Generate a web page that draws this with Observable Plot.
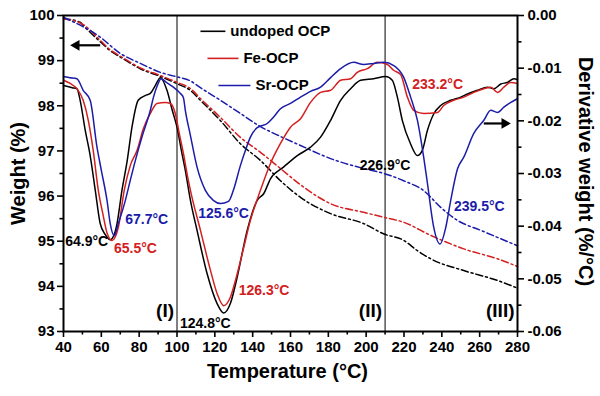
<!DOCTYPE html>
<html>
<head>
<meta charset="utf-8">
<script src="https://cdn.jsdelivr.net/npm/d3@7"></script>
<script src="https://cdn.jsdelivr.net/npm/@observablehq/plot@0.6"></script>
<style>body{margin:0;background:#fff}</style>
</head>
<body>
<div id="chart"></div>
<script>
// ---- data ----
const seriesNames = ["undoped OCP", "Fe-OCP", "Sr-OCP"];
const seriesColors = ["#000000", "#d42020", "#1c1caa"];

// Derivative weight (%/°C) vs temperature (°C)
const dtgUndoped = [[40,-0.0133],[44.6,-0.0137],[47.1,-0.0139],[48.8,-0.0161],[51.5,-0.0218],[54.1,-0.0266],[56.8,-0.0332],[59.4,-0.0395],[62.1,-0.0416],[64.7,-0.0426],[66.8,-0.0416],[68.3,-0.0395],[70.9,-0.0332],[73.7,-0.0275],[76.2,-0.0212],[79.5,-0.0161],[83.2,-0.0152],[85.9,-0.0148],[88.5,-0.0133],[91.2,-0.0118],[94.7,-0.0142],[97.5,-0.0180],[100,-0.0212],[102.3,-0.0256],[104.4,-0.0294],[107.1,-0.0351],[110.6,-0.0408],[115.9,-0.0490],[121.2,-0.0547],[124.7,-0.0565],[128.2,-0.0547],[131.8,-0.0497],[137.1,-0.0408],[142.4,-0.0351],[145.9,-0.0338],[149.4,-0.0310],[156.3,-0.0288],[163.6,-0.0266],[170.6,-0.0250],[175.9,-0.0231],[181.2,-0.0199],[186.5,-0.0161],[191.8,-0.0139],[197.1,-0.0123],[204,-0.0120],[210.3,-0.0116],[213.8,-0.0123],[216.5,-0.0155],[219.1,-0.0199],[223.5,-0.0244],[227.1,-0.0266],[229.7,-0.0256],[232.4,-0.0218],[235.7,-0.0187],[239.4,-0.0171],[244.7,-0.0161],[250,-0.0155],[253.6,-0.0149],[258.8,-0.0142],[264.1,-0.0136],[267.5,-0.0139],[271.2,-0.0130],[274.7,-0.0127],[278.1,-0.0120],[280,-0.0122]];
const dtgFe = [[40,-0.0123],[43.5,-0.0129],[47.1,-0.0139],[50.4,-0.0161],[53.1,-0.0199],[55.7,-0.0256],[58.4,-0.0332],[61,-0.0380],[63.1,-0.0414],[65.6,-0.0427],[67.4,-0.0420],[69,-0.0402],[72.1,-0.0332],[75.3,-0.0285],[78.9,-0.0256],[82.2,-0.0215],[85.9,-0.0186],[89.4,-0.0167],[93.8,-0.0165],[96.5,-0.0167],[99.1,-0.0186],[101.2,-0.0224],[103.4,-0.0262],[105.5,-0.0304],[107.1,-0.0332],[112.4,-0.0408],[117.7,-0.0484],[121.2,-0.0528],[124.7,-0.0551],[128.2,-0.0535],[130.9,-0.0503],[135.3,-0.0440],[138.8,-0.0389],[144.1,-0.0332],[149.4,-0.0281],[154.7,-0.0243],[160,-0.0212],[165.3,-0.0196],[170.6,-0.0165],[175.9,-0.0146],[181.2,-0.0142],[186.5,-0.0123],[191.8,-0.0120],[195.3,-0.0108],[200.6,-0.0101],[205.9,-0.0089],[211.2,-0.0093],[214.5,-0.0104],[218.2,-0.0112],[221.8,-0.0155],[225.1,-0.0180],[230.4,-0.0186],[237.7,-0.0184],[241,-0.0171],[246.3,-0.0161],[251.6,-0.0155],[256.9,-0.0146],[262.2,-0.0139],[265.9,-0.0136],[269.4,-0.0146],[272.8,-0.0136],[276.5,-0.0127],[280,-0.0129]];
const dtgSr = [[40,-0.0116],[43.5,-0.0118],[47.1,-0.0120],[50.4,-0.0142],[54.1,-0.0161],[57.7,-0.0250],[60,-0.0294],[63,-0.0351],[64.7,-0.0395],[66.8,-0.0418],[69,-0.0395],[72.7,-0.0351],[75.3,-0.0313],[78,-0.0275],[81.7,-0.0228],[85.9,-0.0180],[87.5,-0.0156],[89.6,-0.0133],[91.6,-0.0120],[94.4,-0.0127],[98.1,-0.0136],[101.8,-0.0148],[103.4,-0.0156],[104.4,-0.0180],[107.1,-0.0228],[110.6,-0.0288],[115,-0.0332],[119.2,-0.0351],[123,-0.0357],[127.2,-0.0353],[129.8,-0.0332],[133.5,-0.0285],[136.2,-0.0256],[138.8,-0.0231],[142.4,-0.0213],[147.7,-0.0205],[151,-0.0193],[154.7,-0.0177],[160,-0.0167],[165.3,-0.0155],[170.6,-0.0144],[175.9,-0.0136],[181.2,-0.0118],[186.5,-0.0101],[193.4,-0.0089],[198.7,-0.0093],[204,-0.0091],[209.3,-0.0089],[214.6,-0.0095],[219.8,-0.0117],[223.5,-0.0155],[227.1,-0.0199],[230.4,-0.0269],[232.4,-0.0319],[235.7,-0.0402],[239,-0.0434],[242.1,-0.0402],[244.7,-0.0351],[248.3,-0.0291],[251.6,-0.0269],[256.9,-0.0224],[262.2,-0.0199],[265.9,-0.0180],[269.4,-0.0184],[272.8,-0.0174],[276.5,-0.0165],[280,-0.0158]];

// Weight (%) vs temperature (°C)
const wtUndoped = [[40,99.93],[48.8,99.85],[50.4,99.78],[59.4,99.42],[64.7,99.22],[70,99.08],[80.6,98.82],[91.2,98.65],[100,98.49],[107.1,98.34],[112.4,98.12],[123,97.67],[133.5,97.16],[144.1,96.79],[154.7,96.34],[165.3,95.97],[181.2,95.61],[198.7,95.39],[209.4,95.16],[219.8,95.02],[227.1,94.79],[234.1,94.61],[251.6,94.35],[269.4,94.13],[280,93.96]];
const wtFe = [[40,99.93],[50.4,99.80],[59.4,99.45],[64.7,99.24],[70,99.10],[80.6,98.84],[91.2,98.67],[100,98.52],[107.1,98.38],[112.4,98.16],[123,97.74],[133.5,97.30],[144.1,96.97],[154.7,96.61],[165.3,96.25],[181.2,95.83],[198.7,95.64],[209.4,95.53],[219.8,95.42],[234.1,95.13],[251.6,94.83],[269.4,94.61],[280,94.44]];
const wtSr = [[40,99.96],[59.4,99.52],[70,99.16],[80.6,98.94],[91.2,98.74],[100,98.64],[107.1,98.55],[112.4,98.40],[123,98.12],[133.5,97.83],[144.1,97.54],[154.7,97.32],[165.3,97.12],[181.2,96.83],[198.7,96.61],[209.4,96.50],[219.8,96.34],[230.4,96.12],[239.4,95.75],[248.3,95.46],[260.6,95.24],[280,94.90]];

const xTicks = [40,60,80,100,120,140,160,180,200,220,240,260,280];
const xMinor = [50,70,90,110,130,150,170,190,210,230,250,270];
const wTicks = [93,94,95,96,97,98,99,100];
const wMinor = [93.5,94.5,95.5,96.5,97.5,98.5,99.5];
const dTicks = [0,-0.01,-0.02,-0.03,-0.04,-0.05,-0.06];
const dMinor = [-0.005,-0.015,-0.025,-0.035,-0.045,-0.055];
const dividers = [100, 210];
const regions = [{x:100, label:"(I)"},{x:210, label:"(II)"},{x:280, label:"(III)"}];

const peaks = [
  {s:0, T:64.9,  label:"64.9°C",  anchor:"end",    dx:-2, dy:2},
  {s:1, T:65.5,  label:"65.5°C",  anchor:"start",  dx:2,  dy:8},
  {s:2, T:67.7,  label:"67.7°C",  anchor:"start",  dx:11, dy:-16},
  {s:2, T:125.6, label:"125.6°C", anchor:"middle", dx:3,  dy:10},
  {s:1, T:126.3, label:"126.3°C", anchor:"start",  dx:15, dy:-15},
  {s:0, T:124.8, label:"124.8°C", anchor:"end",    dx:7,  dy:10},
  {s:0, T:226.9, label:"226.9°C", anchor:"end",    dx:-7, dy:10},
  {s:1, T:233.2, label:"233.2°C", anchor:"middle", dx:14, dy:-29},
  {s:2, T:239.5, label:"239.5°C", anchor:"start",  dx:14, dy:-38}
];

// legend placement (°C, weight %)
const legendItems = [
  {s:0, x1:112.4, x2:125.6, y:99.65, tx:128.2},
  {s:1, x1:116.1, x2:132.5, y:99.05, tx:135.1},
  {s:2, x1:121.9, x2:138.8, y:98.45, tx:141.5}
];

// ---- helpers ----
const toW = d => 93 + (d + 0.06) / 0.06 * 7;        // derivative -> left-axis units
const fromW = w => (w - 93) / 7 * 0.06 - 0.06;
const fmtD = w => { const d = fromW(w); return d < -1e-9 ? "-" + Math.abs(d).toFixed(2) : "0.00"; };
const dtg = [dtgUndoped, dtgFe, dtgSr];
const wt = [wtUndoped, wtFe, wtSr];

peaks.forEach(p => {
  const pts = dtg[p.s].filter(([t]) => Math.abs(t - p.T) < 7);
  const m = d3.least(pts, d => d[1]);
  p.x = m[0]; p.y = toW(m[1]);
});

// axis-pointing arrows (°C, weight %): shaft start, head centre, direction
const arrows = [
  {x1:59.4, x2:46.8, y:99.34, rot:-90},
  {x1:262.2, x2:273.2, y:toW(-0.0205), rot:90}
];

const font = "'Liberation Sans', Arial, Helvetica, sans-serif";
const marks = [];

marks.push(Plot.ruleX(dividers, {stroke:"black", strokeWidth:1}));

wt.forEach((arr, i) => marks.push(Plot.line(arr, {x:d => d[0], y:d => d[1], stroke:seriesColors[i], strokeWidth:1.5, strokeDasharray:"7,3,2,3", curve:"monotone-x"})));
dtg.forEach((arr, i) => marks.push(Plot.line(arr, {x:d => d[0], y:d => toW(d[1]), stroke:seriesColors[i], strokeWidth:1.5, curve:"monotone-x"})));

peaks.forEach(p => marks.push(Plot.text([p], {x:"x", y:"y", text:"label", textAnchor:p.anchor, dx:p.dx, dy:p.dy, fill:seriesColors[p.s], fontSize:14})));

legendItems.forEach(l => {
  marks.push(Plot.link([l], {x1:"x1", x2:"x2", y1:"y", y2:"y", stroke:seriesColors[l.s], strokeWidth:1.6}));
  marks.push(Plot.text([l], {x:"tx", y:"y", text:() => seriesNames[l.s], textAnchor:"start", fill:"black", fontSize:15}));
});

arrows.forEach(a => {
  marks.push(Plot.link([a], {x1:"x1", x2:"x2", y1:"y", y2:"y", stroke:"black", strokeWidth:2.2}));
  marks.push(Plot.dot([a], {x:"x2", y:"y", symbol:"triangle", r:4, fill:"black", stroke:"none", rotate:a.rot}));
});

marks.push(Plot.text(regions, {x:"x", text:"label", frameAnchor:"bottom", textAnchor:"end", dx:-3, dy:-15, fontSize:19, fill:"black"}));

marks.push(Plot.frame({stroke:"black", strokeWidth:2}));

marks.push(Plot.axisX({ticks:xTicks, tickSize:6, tickPadding:4, strokeWidth:1.6, label:null, tickFormat:d3.format("d")}));
marks.push(Plot.axisX({ticks:xMinor, tickSize:3.5, strokeWidth:1.6, label:null, tickFormat:() => ""}));
marks.push(Plot.axisY({anchor:"left", ticks:wTicks, tickSize:6, tickPadding:3, strokeWidth:1.6, label:null, tickFormat:d3.format("d")}));
marks.push(Plot.axisY({anchor:"left", ticks:wMinor, tickSize:3.5, strokeWidth:1.6, label:null, tickFormat:() => ""}));
marks.push(Plot.axisY({anchor:"right", ticks:dTicks.map(toW), tickSize:6, tickPadding:4, strokeWidth:1.6, label:null, tickFormat:fmtD}));
marks.push(Plot.axisY({anchor:"right", ticks:dMinor.map(toW), tickSize:3.5, strokeWidth:1.6, label:null, tickFormat:() => ""}));

marks.push(Plot.text(["Weight (%)"], {frameAnchor:"left", textAnchor:"middle", rotate:-90, dx:-45, fontSize:20, fill:"black"}));
marks.push(Plot.text(["Derivative weight (%/°C)"], {frameAnchor:"right", textAnchor:"middle", rotate:90, dx:68, dy:-2, fontSize:20, fill:"black"}));
marks.push(Plot.text(["Temperature (°C)"], {frameAnchor:"bottom", dx:-3, dy:46, fontSize:20, fill:"black"}));

const chart = Plot.plot({
  width:600, height:396,
  marginTop:15, marginLeft:63, marginRight:83, marginBottom:65,
  x:{domain:[40, 280]},
  y:{domain:[93, 100]},
  style:{fontFamily:font, fontSize:"15px", fontWeight:"bold", background:"white", color:"black", overflow:"visible"},
  marks
});
document.getElementById("chart").append(chart);
</script>
</body>
</html>
